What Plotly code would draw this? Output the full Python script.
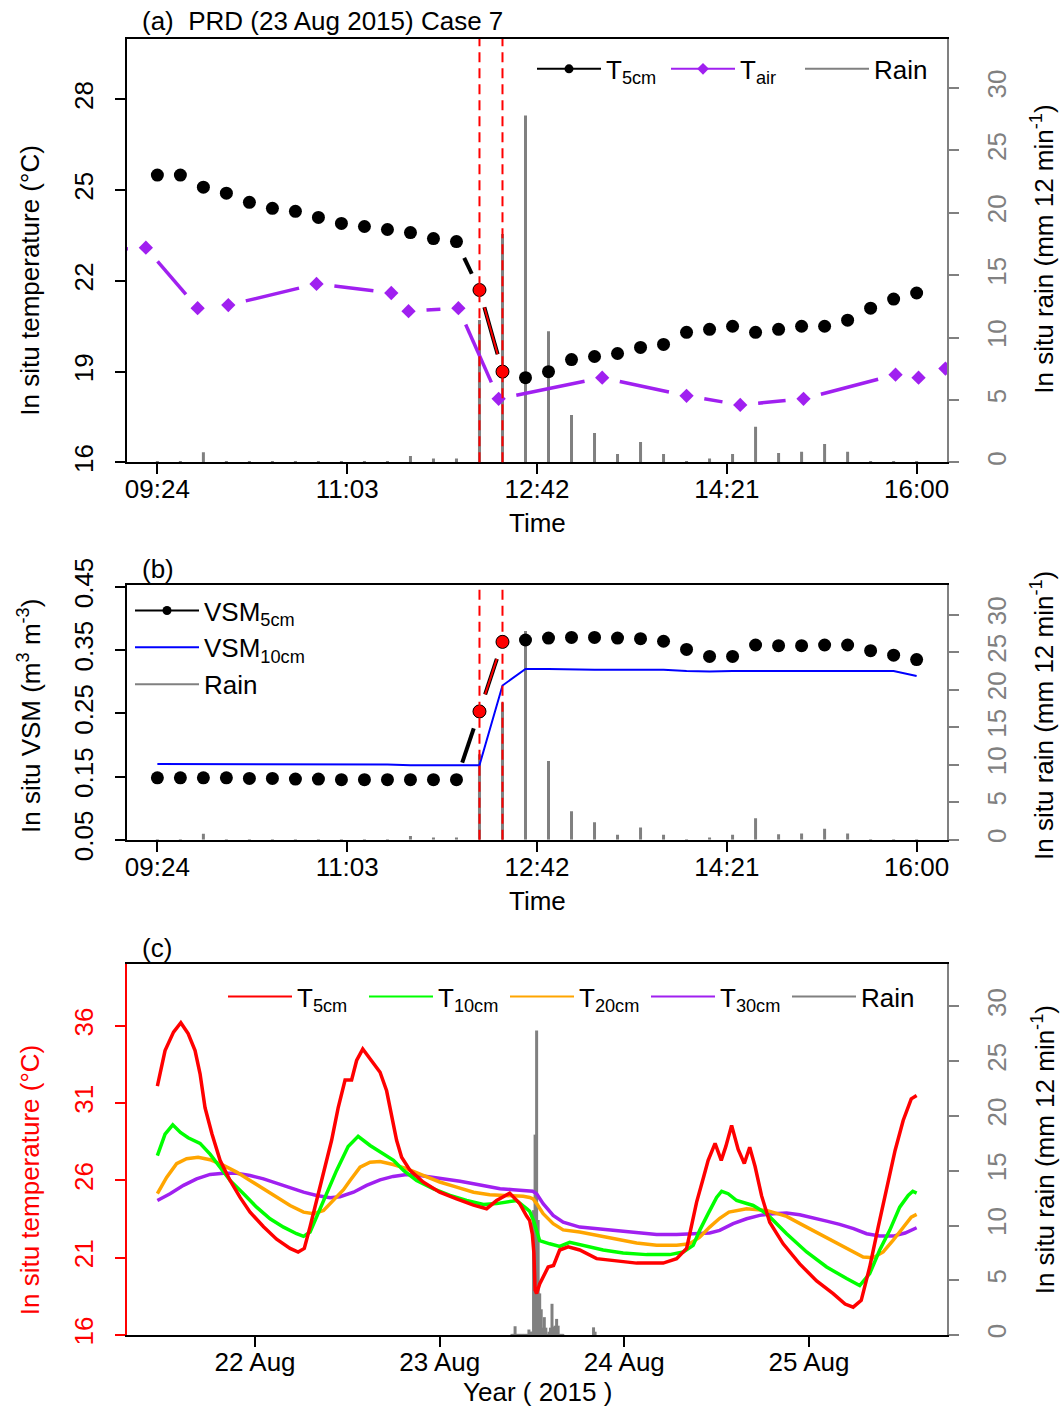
import plotly.graph_objects as go

FONT = "Liberation Sans, Arial, Helvetica, sans-serif"
GRAY = "#808080"
PURPLE = "#A020F0"
FS = 26

# ---------------- Panel (a) & (b): 23 Aug 2015, 12-min observations ----------------
times_ab = ["09:24", "09:36", "09:48", "10:00", "10:12", "10:24", "10:36", "10:48",
            "11:00", "11:12", "11:24", "11:36", "11:48", "12:00", "12:12", "12:24",
            "12:36", "12:48", "13:00", "13:12", "13:24", "13:36", "13:48", "14:00",
            "14:12", "14:24", "14:36", "14:48", "15:00", "15:12", "15:24", "15:36",
            "15:48", "16:00"]
t5cm_a = [25.5, 25.5, 25.1, 24.9, 24.6, 24.4, 24.3, 24.1, 23.9, 23.8, 23.7, 23.6,
          23.4, 23.3, 21.7, 19.0, 18.8, 19.0, 19.4, 19.5, 19.6, 19.8, 19.9, 20.3,
          20.4, 20.5, 20.3, 20.4, 20.5, 20.5, 20.7, 21.1, 21.4, 21.6]
rain_ab = [0.1, 0.1, 0.8, 0.1, 0.1, 0.1, 0.1, 0.1, 0.1, 0.1, 0.1, 0.5, 0.3, 0.3,
           11.4, 18.3, 27.8, 10.5, 3.8, 2.35, 0.67, 1.63, 0.67, 0.1, 0.3, 0.67,
           2.85, 0.75, 0.85, 1.47, 0.85, 0.1, 0.1, 0.1]
tair_times = ["08:50", "09:18", "09:45", "10:01", "10:47", "11:26", "11:35", "12:01",
              "12:22", "13:16", "14:00", "14:28", "15:01", "15:49", "16:01", "16:15"]
tair_a = [23.0, 23.1, 21.1, 21.2, 21.9, 21.6, 21.0, 21.1, 18.1, 18.8, 18.2, 17.9,
          18.1, 18.9, 18.8, 19.1]
vsm5_b = [0.148, 0.148, 0.148, 0.148, 0.147, 0.147, 0.146, 0.146, 0.145, 0.145,
          0.145, 0.145, 0.145, 0.145, 0.253, 0.363, 0.366, 0.369, 0.370, 0.370,
          0.369, 0.368, 0.364, 0.351, 0.340, 0.340, 0.358, 0.357, 0.357, 0.358,
          0.358, 0.349, 0.342, 0.335]
vsm10_b = [0.170, 0.170, 0.170, 0.170, 0.170, 0.170, 0.170, 0.170, 0.169, 0.169,
           0.169, 0.168, 0.168, 0.168, 0.168, 0.294, 0.320, 0.320, 0.319, 0.319,
           0.319, 0.319, 0.319, 0.317, 0.316, 0.317, 0.317, 0.317, 0.317, 0.317,
           0.317, 0.317, 0.317, 0.309]
event_idx = [14, 15]
event_times = ["12:12", "12:24"]
xtick_labels_ab = ["09:24", "11:03", "12:42", "14:21", "16:00"]
temp_ticks_a = [16, 19, 22, 25, 28]
vsm_ticks_b = [0.05, 0.15, 0.25, 0.35, 0.45]
rain_ticks = [0, 5, 10, 15, 20, 25, 30]

# ---------------- Panel (c): hours since 21 Aug 2015 00:00 ----------------
c5_h = [11.3, 12.3, 13.4, 14.35, 15.3, 16.2, 16.85, 17.5, 18.4, 19.45, 20.75, 22.05,
        23.35, 25.1, 26.8, 28.55, 29.6, 30.4, 31.15, 32.0, 32.9, 33.95, 34.8, 35.7,
        36.55, 37.2, 38.0, 38.95, 40.25, 41.1, 41.75, 42.4, 43.05, 44.15, 45.85, 48.0,
        50.2, 52.4, 54.1, 55.4, 57.1, 58.4, 59.3, 59.7, 60.05, 60.25, 60.4, 60.6,
        61.0, 62.1, 62.8, 63.6, 64.7, 66.2, 68.4, 71.0, 73.6, 77.05, 78.8, 80.1,
        80.75, 81.4, 82.3, 82.9, 83.8, 84.6, 85.2, 85.95, 86.8, 87.6, 88.3, 89.0,
        89.85, 90.9, 92.65, 94.8, 97.0, 99.15, 100.7, 101.75, 102.8, 103.9, 105.0,
        106.1, 107.2, 108.25, 109.3, 110.0]
c5_t = [32.1, 34.4, 35.6, 36.2, 35.5, 34.4, 32.9, 30.7, 29.0, 27.3, 26.0, 24.9,
        23.95, 23.0, 22.2, 21.6, 21.37, 21.6, 23.0, 24.7, 26.4, 28.6, 30.7, 32.5,
        32.5, 33.76, 34.5, 33.87, 33.0, 31.8, 30.1, 28.6, 27.5, 26.65, 25.9, 25.24,
        24.8, 24.4, 24.17, 24.7, 25.18, 24.5, 23.7, 23.4, 22.5, 21.3, 18.9, 18.68,
        19.3, 20.4, 20.5, 21.5, 21.7, 21.5, 20.94, 20.8, 20.65, 20.65, 20.94, 21.6,
        23.2, 24.6, 26.2, 27.3, 28.4, 27.3, 28.2, 29.56, 28.0, 27.1, 28.15, 26.9,
        25.0, 23.3, 21.9, 20.6, 19.5, 18.68, 18.0, 17.8, 18.24, 20.4, 22.98,
        25.57, 27.94, 29.88, 31.28, 31.5]
c10_h = [11.3, 12.3, 13.3, 14.3, 15.3, 16.85, 18.15, 19.45, 20.75, 22.5, 24.2, 25.95,
         27.7, 29.4, 30.3, 31.15, 32.0, 33.3, 34.6, 36.1, 37.4, 38.95, 40.7, 42.0,
         43.3, 45.0, 47.2, 49.35, 51.5, 53.7, 55.4, 56.7, 58.0, 59.3, 59.7, 60.2,
         60.5, 61.0, 62.3, 63.6, 64.9, 66.7, 69.25, 71.85, 74.9, 77.9, 79.65, 80.95,
         81.8, 82.9, 84.0, 84.65, 85.5, 86.6, 88.75, 90.5, 93.1, 95.7, 98.3, 100.9,
         102.6, 103.9, 105.2, 106.5, 107.8, 108.9, 109.5, 110.0]
c10_t = [27.6, 29.0, 29.6, 29.1, 28.76, 28.4, 27.7, 26.86, 26.0, 25.14, 24.27, 23.52,
         22.98, 22.55, 22.38, 22.66, 23.63, 25.14, 26.65, 28.2, 28.85, 28.26, 27.72,
         27.3, 26.65, 26.0, 25.46, 25.03, 24.7, 24.45, 24.5, 24.6, 24.7, 24.17, 24.0,
         23.4, 22.9, 22.1, 21.9, 21.73, 22.0, 21.8, 21.5, 21.3, 21.2, 21.2, 21.37,
         21.8, 22.77, 23.85, 24.9, 25.3, 25.14, 24.7, 24.38, 23.85, 22.55, 21.37,
         20.4, 19.65, 19.2, 19.97, 21.5, 22.77, 24.27, 25.03, 25.3, 25.18]
c20_h = [11.3, 12.5, 13.8, 15.1, 16.6, 18.15, 19.9, 21.6, 23.35, 25.1, 26.8, 28.55,
         30.3, 31.6, 32.9, 34.2, 35.5, 36.35, 37.65, 38.95, 40.25, 41.95, 43.7, 45.85,
         48.0, 50.2, 52.4, 54.5, 56.7, 58.85, 59.7, 60.15, 60.6, 61.45, 62.75, 64.05,
         66.2, 68.4, 71.0, 73.6, 76.2, 78.8, 80.5, 81.8, 83.1, 84.4, 85.6, 87.9, 90.5,
         93.1, 95.7, 98.3, 100.9, 103.05, 104.35, 105.65, 106.9, 108.25, 109.3, 110.0]
c20_t = [25.14, 26.2, 27.08, 27.4, 27.5, 27.34, 26.97, 26.54, 26.0, 25.46, 24.9, 24.38,
         23.95, 23.85, 24.06, 24.7, 25.4, 26.0, 26.86, 27.18, 27.23, 27.03, 26.76,
         26.32, 25.9, 25.57, 25.24, 25.08, 25.03, 24.97, 24.9, 24.8, 24.5, 23.85,
         23.2, 22.8, 22.66, 22.44, 22.23, 21.95, 21.8, 21.8, 21.9, 22.33, 22.98,
         23.55, 23.95, 24.17, 24.06, 23.67, 22.98, 22.3, 21.6, 21.04, 21.0, 21.37,
         22.1, 22.98, 23.63, 23.8]
c30_h = [11.3, 12.95, 14.7, 16.4, 18.15, 19.9, 21.6, 23.35, 25.1, 26.8, 28.55, 30.3,
         32.0, 33.75, 35.05, 36.8, 38.5, 40.25, 41.95, 43.7, 45.45, 47.2, 48.9, 50.65,
         52.4, 54.1, 55.85, 57.55, 59.3, 60.1, 60.6, 61.45, 62.75, 64.05, 66.2, 68.4,
         71.0, 73.6, 76.2, 78.8, 81.4, 83.1, 84.4, 86.15, 87.9, 89.6, 91.35, 93.1,
         94.8, 96.6, 98.3, 100.0, 101.8, 103.5, 105.2, 106.95, 108.5, 110.0]
c30_t = [24.7, 25.14, 25.68, 26.1, 26.39, 26.47, 26.47, 26.32, 26.1, 25.83, 25.53,
         25.24, 25.03, 24.88, 24.95, 25.24, 25.68, 26.04, 26.26, 26.39, 26.32, 26.2,
         26.1, 25.95, 25.79, 25.63, 25.46, 25.4, 25.35, 25.3, 25.14, 24.5, 23.74,
         23.3, 22.98, 22.88, 22.72, 22.62, 22.5, 22.5, 22.55, 22.6, 22.77, 23.2,
         23.52, 23.74, 23.85, 23.89, 23.78, 23.59, 23.37, 23.16, 22.88, 22.55, 22.4,
         22.4, 22.6, 22.94]
rain_extra_h = [68.0, 68.2]
rain_extra = [0.7, 0.3]
day_tick_hours = [24, 48, 72, 96]
day_tick_labels = ["22 Aug", "23 Aug", "24 Aug", "25 Aug"]
temp_ticks_c = [16, 21, 26, 31, 36]

# ---------------- geometry (pixels of the page) ----------------
PL, PR, PT, PB = 127, 947, 37, 1335
PW, PH = PR - PL, PB - PT


def hhmm_to_min(s):
    h, m = s.split(":")
    return int(h) * 60 + int(m) - (9 * 60 + 24)


def ypaper(py):
    return (PB - py) / PH


def xpaper(px):
    return (px - PL) / PW


def stems(xs, vals):
    X, Y = [], []
    for x, v in zip(xs, vals):
        X += [x, x, None]
        Y += [0, v, None]
    return X, Y


def gapped(xs, ys, xr, yr, wpx, hpx, gap=18.0):
    """R type='b' style: segments shortened around points."""
    X, Y = [], []
    for i in range(len(xs) - 1):
        x0, y0, x1, y1 = xs[i], ys[i], xs[i + 1], ys[i + 1]
        dxp = (x1 - x0) / (xr[1] - xr[0]) * wpx
        dyp = (y1 - y0) / (yr[1] - yr[0]) * hpx
        L = (dxp ** 2 + dyp ** 2) ** 0.5
        if L <= 2 * gap:
            continue
        f = gap / L
        X += [x0 + (x1 - x0) * f, x0 + (x1 - x0) * (1 - f), None]
        Y += [y0 + (y1 - y0) * f, y0 + (y1 - y0) * (1 - f), None]
    return X, Y


xm = [hhmm_to_min(s) for s in times_ab]
xtair = [hhmm_to_min(s) for s in tair_times]
xev = [hhmm_to_min(s) for s in event_times]
xticks_ab = [hhmm_to_min(s) for s in xtick_labels_ab]
span = xm[-1] - xm[0]
XR_AB = [xm[0] - 0.04 * span, xm[-1] + 0.04 * span]
YR_A = [16, 30]
RR = [0, 33.92]
YR_B = [0.05, 0.4527]
YR_C = [16, 40.03]
span_c = c5_h[-1] - c5_h[0]
XR_C = [c5_h[0] - 0.04 * span_c, c5_h[-1] + 0.04 * span_c]

dom_a = [ypaper(461), 1.0]
dom_b = [ypaper(839), ypaper(584)]
dom_c = [0.0, ypaper(963)]
HA = 461 - 37
HB = 839 - 584

fig = go.Figure()

# ---------------- Panel (a) ----------------
rx, ry = stems(xm, rain_ab)
fig.add_trace(go.Scatter(x=rx, y=ry, mode="lines", line=dict(color=GRAY, width=3),
                         xaxis="x", yaxis="y", showlegend=False, hoverinfo="skip"))
gx, gy = gapped(xtair, tair_a, XR_AB, YR_A, PW, HA)
fig.add_trace(go.Scatter(x=gx, y=gy, mode="lines", line=dict(color=PURPLE, width=3.5),
                         xaxis="x", yaxis="y2", showlegend=False, hoverinfo="skip"))
fig.add_trace(go.Scatter(x=xtair, y=tair_a, mode="markers",
                         marker=dict(symbol="diamond", size=11, color=PURPLE),
                         xaxis="x", yaxis="y2", showlegend=False))
gx, gy = gapped(xm, t5cm_a, XR_AB, YR_A, PW, HA)
fig.add_trace(go.Scatter(x=gx, y=gy, mode="lines", line=dict(color="black", width=4),
                         xaxis="x", yaxis="y2", showlegend=False, hoverinfo="skip"))
ex = [xm[i] for i in event_idx]
ey = [t5cm_a[i] for i in event_idx]
gx, gy = gapped(ex, ey, XR_AB, YR_A, PW, HA)
fig.add_trace(go.Scatter(x=gx, y=gy, mode="lines", line=dict(color="red", width=2),
                         xaxis="x", yaxis="y2", showlegend=False, hoverinfo="skip"))
fig.add_trace(go.Scatter(x=xm, y=t5cm_a, mode="markers",
                         marker=dict(size=13, color="black"),
                         xaxis="x", yaxis="y2", showlegend=False))
fig.add_trace(go.Scatter(x=ex, y=ey, mode="markers",
                         marker=dict(size=13, color="red", line=dict(color="black", width=1)),
                         xaxis="x", yaxis="y2", showlegend=False))
# legend (a)
fig.add_trace(go.Scatter(x=[None], y=[None], mode="lines+markers", name="T<sub>5cm</sub>",
                         line=dict(color="black", width=2), marker=dict(size=9, color="black"),
                         xaxis="x", yaxis="y2", legend="legend"))
fig.add_trace(go.Scatter(x=[None], y=[None], mode="lines+markers", name="T<sub>air</sub>",
                         line=dict(color=PURPLE, width=2),
                         marker=dict(size=9, color=PURPLE, symbol="diamond"),
                         xaxis="x", yaxis="y2", legend="legend"))
fig.add_trace(go.Scatter(x=[None], y=[None], mode="lines", name="Rain",
                         line=dict(color=GRAY, width=2),
                         xaxis="x", yaxis="y2", legend="legend"))

# ---------------- Panel (b) ----------------
fig.add_trace(go.Scatter(x=rx, y=ry, mode="lines", line=dict(color=GRAY, width=3),
                         xaxis="x2", yaxis="y3", showlegend=False, hoverinfo="skip"))
fig.add_trace(go.Scatter(x=xm, y=vsm10_b, mode="lines", line=dict(color="blue", width=2),
                         xaxis="x2", yaxis="y4", showlegend=False))
gx, gy = gapped(xm, vsm5_b, XR_AB, YR_B, PW, HB)
fig.add_trace(go.Scatter(x=gx, y=gy, mode="lines", line=dict(color="black", width=4),
                         xaxis="x2", yaxis="y4", showlegend=False, hoverinfo="skip"))
evy = [vsm5_b[i] for i in event_idx]
gx, gy = gapped(ex, evy, XR_AB, YR_B, PW, HB)
fig.add_trace(go.Scatter(x=gx, y=gy, mode="lines", line=dict(color="red", width=2),
                         xaxis="x2", yaxis="y4", showlegend=False, hoverinfo="skip"))
fig.add_trace(go.Scatter(x=xm, y=vsm5_b, mode="markers", marker=dict(size=13, color="black"),
                         xaxis="x2", yaxis="y4", showlegend=False))
fig.add_trace(go.Scatter(x=ex, y=evy, mode="markers",
                         marker=dict(size=13, color="red", line=dict(color="black", width=1)),
                         xaxis="x2", yaxis="y4", showlegend=False))
fig.add_trace(go.Scatter(x=[None], y=[None], mode="lines+markers", name="VSM<sub>5cm</sub>",
                         line=dict(color="black", width=2), marker=dict(size=9, color="black"),
                         xaxis="x2", yaxis="y4", legend="legend2"))
fig.add_trace(go.Scatter(x=[None], y=[None], mode="lines", name="VSM<sub>10cm</sub>",
                         line=dict(color="blue", width=2),
                         xaxis="x2", yaxis="y4", legend="legend2"))
fig.add_trace(go.Scatter(x=[None], y=[None], mode="lines", name="Rain",
                         line=dict(color=GRAY, width=2),
                         xaxis="x2", yaxis="y4", legend="legend2"))

# ---------------- Panel (c) ----------------
rain_c_h = [57.4 + (m / 60.0) for m in xm] + rain_extra_h
rain_c = rain_ab + rain_extra
rcx, rcy = stems(rain_c_h, rain_c)
fig.add_trace(go.Scatter(x=rcx, y=rcy, mode="lines", line=dict(color=GRAY, width=3),
                         xaxis="x3", yaxis="y5", showlegend=False, hoverinfo="skip"))
for hh, tt, col in [(c30_h, c30_t, PURPLE), (c20_h, c20_t, "orange"),
                    (c10_h, c10_t, "#00FF00"), (c5_h, c5_t, "red")]:
    fig.add_trace(go.Scatter(x=hh, y=tt, mode="lines", line=dict(color=col, width=3.5),
                             xaxis="x3", yaxis="y6", showlegend=False))
for col, nm in [("red", "T<sub>5cm</sub>"), ("#00FF00", "T<sub>10cm</sub>"),
                ("orange", "T<sub>20cm</sub>"), (PURPLE, "T<sub>30cm</sub>"),
                (GRAY, "Rain")]:
    fig.add_trace(go.Scatter(x=[None], y=[None], mode="lines", name=nm,
                             line=dict(color=col, width=2),
                             xaxis="x3", yaxis="y6", legend="legend3"))

# ---------------- axes ----------------
tickfont = dict(size=FS, color="black", family=FONT)
grayfont = dict(size=FS, color=GRAY, family=FONT)


def xax(anchor, rng, tv, tt):
    return dict(domain=[0, 1], anchor=anchor, range=rng, tickmode="array", tickvals=tv,
                ticktext=tt, ticks="outside", ticklen=10, tickwidth=1.5, tickcolor="black",
                showline=True, linecolor="black", linewidth=1.5, mirror=True,
                showgrid=False, zeroline=False, tickfont=tickfont, ticklabelstandoff=-7)


def rain_ax(anchor, dom):
    return dict(domain=dom, anchor=anchor, range=RR, side="right", tickmode="array",
                tickvals=rain_ticks, ticks="outside", ticklen=10, tickwidth=1.5,
                tickcolor=GRAY, showline=True, linecolor=GRAY, linewidth=1.5,
                showgrid=False, zeroline=False, tickfont=grayfont, tickangle=-90,
                ticklabelstandoff=16)


def left_ax(anchor, over, rng, tv, tt, color="black"):
    return dict(anchor=anchor, overlaying=over, range=rng, side="left", tickmode="array",
                tickvals=tv, ticktext=tt, ticks="outside", ticklen=10, tickwidth=1.5,
                tickcolor=color, showline=True, linecolor=color, linewidth=1.5,
                showgrid=False, zeroline=False,
                tickfont=dict(size=FS, color=color, family=FONT), tickangle=-90,
                ticklabelstandoff=12)


def legend_box(px, py, orient, yanchor, entrywidth=None):
    d = dict(orientation=orient, x=xpaper(px), y=ypaper(py), xanchor="left",
             yanchor=yanchor, font=dict(size=FS, family=FONT),
             bgcolor="rgba(0,0,0,0)", traceorder="normal", itemwidth=64)
    if entrywidth:
        d["entrywidth"] = entrywidth
        d["entrywidthmode"] = "pixels"
    return d


fig.update_layout(
    width=1061, height=1410,
    margin=dict(l=PL, r=1061 - PR, t=PT, b=1410 - PB),
    paper_bgcolor="white", plot_bgcolor="white",
    font=dict(family=FONT, size=FS, color="black"),
    xaxis=xax("y", XR_AB, xticks_ab, xtick_labels_ab),
    yaxis=rain_ax("x", dom_a),
    yaxis2=left_ax("x", "y", YR_A, temp_ticks_a, [str(v) for v in temp_ticks_a]),
    xaxis2=xax("y3", XR_AB, xticks_ab, xtick_labels_ab),
    yaxis3=rain_ax("x2", dom_b),
    yaxis4=left_ax("x2", "y3", YR_B, vsm_ticks_b, ["%.2f" % v for v in vsm_ticks_b]),
    xaxis3=xax("y5", XR_C, day_tick_hours, day_tick_labels),
    yaxis5=rain_ax("x3", dom_c),
    yaxis6=left_ax("x3", "y5", YR_C, temp_ticks_c, [str(v) for v in temp_ticks_c], color="red"),
    legend=legend_box(532, 67, "h", "middle", entrywidth=55),
    legend2=legend_box(130, 586, "v", "top"),
    legend3=legend_box(223, 996, "h", "middle", entrywidth=62),
    showlegend=True,
)

# event marker lines (panels a and b)
for xv in xev:
    for xr_, yd in [("x", "y domain"), ("x2", "y3 domain")]:
        fig.add_shape(type="line", xref=xr_, yref=yd,
                      x0=xv, x1=xv, y0=0, y1=1, layer="above",
                      line=dict(color="red", width=2, dash="10px,6px"))


def ann(text, px, py, angle=0, color="black", xanchor="center", size=FS):
    fig.add_annotation(text=text, x=xpaper(px), y=ypaper(py), xref="paper", yref="paper",
                       showarrow=False, textangle=angle, xanchor=xanchor, yanchor="middle",
                       font=dict(size=size, color=color, family=FONT))


ann("(a)  PRD (23 Aug 2015) Case 7", 140, 19, xanchor="left")
ann("(b)", 140, 568, xanchor="left")
ann("(c)", 140, 947, xanchor="left")
ann("Time", 537, 522)
ann("Time", 537, 900)
ann("Year ( 2015 )", 537, 1392)
ann("In situ temperature (°C)", 30, 279, angle=-90)
ann("In situ VSM (m<sup>3</sup> m<sup>-3</sup>)", 30, 715, angle=-90)
ann("In situ temperature (°C)", 30, 1180, angle=-90, color="red")
for yc in [248, 715, 1150]:
    ann("In situ rain (mm 12 min<sup>-1</sup>)", 1043, yc, angle=-90)

fig.write_html("out.html")
